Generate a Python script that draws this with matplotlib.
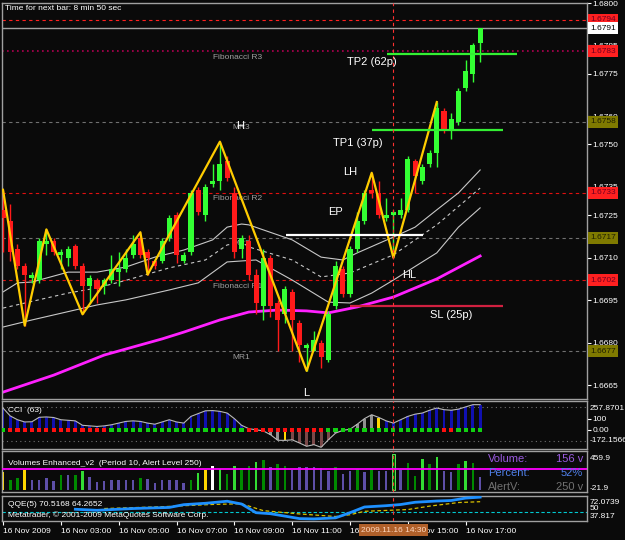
import matplotlib
matplotlib.use("Agg")
import matplotlib.pyplot as plt
import matplotlib.transforms as mtrans

plt.rcParams['font.family'] = ['Liberation Sans', 'DejaVu Sans']

W, H = 625, 540
BG = '#0a0a0a'

# ---- GBPUSD-ish M15 bars, 16 Nov 2009 01:00 .. 17:30 ----
opens = [1.6727, 1.6723, 1.6713, 1.6707, 1.6703, 1.6702, 1.6715, 1.6716, 1.6711, 1.6710,
         1.6714, 1.6707, 1.6700, 1.6702, 1.6700, 1.6702, 1.6705, 1.6706, 1.6711, 1.6717,
         1.6712, 1.6709, 1.6709, 1.6717, 1.6725, 1.6709, 1.6712, 1.6734, 1.6725, 1.6736,
         1.6737, 1.6744, 1.6733, 1.6713, 1.6716, 1.6704, 1.6693, 1.6710, 1.6694, 1.6690,
         1.6698, 1.6687, 1.6678, 1.6677, 1.6680, 1.6674, 1.6693, 1.6706, 1.6697, 1.6713,
         1.6723, 1.6734, 1.6733, 1.6724, 1.6725, 1.6725, 1.6727, 1.6744, 1.6737, 1.6743,
         1.6747, 1.6762, 1.6755, 1.6758, 1.6770, 1.6775, 1.6786]
highs = [1.6734, 1.6729, 1.6715, 1.6708, 1.6705, 1.6717, 1.6720, 1.6717, 1.6713, 1.6714,
         1.6715, 1.6708, 1.6704, 1.6703, 1.6703, 1.6711, 1.6712, 1.6713, 1.6718, 1.6719,
         1.6713, 1.6709, 1.6717, 1.6725, 1.6726, 1.6712, 1.6734, 1.6735, 1.6736, 1.6743,
         1.6751, 1.6746, 1.6735, 1.6718, 1.6718, 1.6706, 1.6713, 1.6711, 1.6695, 1.6700,
         1.6699, 1.6688, 1.6680, 1.6684, 1.6681, 1.6691, 1.6709, 1.6707, 1.6714, 1.6726,
         1.6734, 1.6740, 1.6737, 1.6731, 1.6727, 1.6731, 1.6746, 1.6745, 1.6743, 1.6748,
         1.6765, 1.6763, 1.6761, 1.6770, 1.6780, 1.6786, 1.6791]
lows = [1.6712, 1.6709, 1.6706, 1.6686, 1.6701, 1.6701, 1.6711, 1.6711, 1.6706, 1.6707,
        1.6706, 1.6690, 1.6694, 1.6694, 1.6697, 1.6701, 1.6700, 1.6705, 1.6710, 1.6710,
        1.6704, 1.6706, 1.6708, 1.6716, 1.6708, 1.6708, 1.6711, 1.6725, 1.6723, 1.6735,
        1.6734, 1.6737, 1.6710, 1.6710, 1.6702, 1.6690, 1.6688, 1.6689, 1.6677, 1.6687,
        1.6677, 1.6673, 1.6670, 1.6677, 1.6671, 1.6673, 1.6692, 1.6696, 1.6696, 1.6712,
        1.6722, 1.6731, 1.6724, 1.6723, 1.6710, 1.6724, 1.6726, 1.6733, 1.6736, 1.6742,
        1.6742, 1.6754, 1.6752, 1.6757, 1.6769, 1.6772, 1.6779]
closes = [1.6724, 1.6712, 1.6707, 1.6704, 1.6704, 1.6716, 1.6716, 1.6712, 1.6712, 1.6713,
          1.6707, 1.6700, 1.6703, 1.6699, 1.6702, 1.6706, 1.6706, 1.6710, 1.6715, 1.6711,
          1.6710, 1.6707, 1.6716, 1.6724, 1.6711, 1.6711, 1.6733, 1.6726, 1.6735, 1.6737,
          1.6743, 1.6738, 1.6712, 1.6717, 1.6704, 1.6694, 1.6710, 1.6693, 1.6688, 1.6699,
          1.6688, 1.6679, 1.6679, 1.6681, 1.6675, 1.6690, 1.6707, 1.6697, 1.6713, 1.6723,
          1.6733, 1.6733, 1.6725, 1.6725, 1.6726, 1.6727, 1.6745, 1.6739, 1.6742, 1.6747,
          1.6763, 1.6755, 1.6759, 1.6769, 1.6776, 1.6785, 1.6791]

zz_bars = [0, 3, 6, 11, 19, 20, 30, 42, 51, 54, 60]
zz_prices = [1.6734, 1.6686, 1.6720, 1.6690, 1.6719, 1.6704, 1.6751, 1.6670, 1.6740, 1.6710, 1.6765]

ma_bars = [0, 7, 14, 22, 25, 30, 34, 38, 42, 45, 49, 54, 60, 66]
ma_prices = [1.66625, 1.66685, 1.66756, 1.66813, 1.66837, 1.6688, 1.66908, 1.66915,
             1.66912, 1.66905, 1.66926, 1.66961, 1.67025, 1.67106]

up_bars = [0, 2, 4, 9, 13, 17, 21, 25, 29, 31, 33, 34, 40, 44, 47, 49, 54, 57, 60, 63, 66]
up_prices = [1.66979, 1.67011, 1.67014, 1.67049, 1.67049, 1.67067, 1.67102, 1.67127, 1.67163,
             1.67208, 1.67219, 1.67216, 1.67163, 1.67102, 1.67092, 1.67117, 1.67173, 1.67208,
             1.67269, 1.67329, 1.6741]
mid_bars = [0, 9, 13, 17, 23, 28, 31, 33, 34, 40, 44, 48, 54, 60, 66]
mid_prices = [1.66922, 1.66975, 1.66993, 1.6702, 1.67064, 1.67092, 1.67145, 1.67155, 1.67138,
              1.67092, 1.67032, 1.67046, 1.6711, 1.67216, 1.67346]
lo_bars = [0, 4, 13, 17, 23, 27, 31, 35, 40, 45, 48, 51, 54, 58, 60, 63, 66]
lo_prices = [1.66855, 1.6688, 1.66933, 1.66951, 1.66986, 1.67011, 1.67085, 1.67092, 1.67021,
             1.66943, 1.6694, 1.66975, 1.67021, 1.67085, 1.67117, 1.67208, 1.67276]

pivot_names = ['Fibonacci R3', 'MR3', 'Fibonacci R2', 'MR2', 'Fibonacci R1', 'MR1']
pivot_levels = [1.6783, 1.6758, 1.6733, 1.6717, 1.6702, 1.6677]
day_high = 1.6794
bid = 1.6791

trade_names = ['TP2 (62p)', 'TP1 (37p)', 'EP', 'SL (25p)']
trade_prices = [1.6782, 1.6755, 1.6718, 1.6693]
trade_from = [53.1, 51.0, 39.1, 48.0]
trade_to = [71.1, 69.2, 58.1, 69.2]

price_ticks = [1.6800, 1.6785, 1.6775, 1.6760, 1.6750, 1.6735, 1.6725, 1.6710, 1.6695, 1.6680, 1.6665]

cci = [195, 124, 90, 70, 72, 112, 115, 110, 90, 85, 80, 40, 35, 30, 35, 45, 60, 75, 80, 75,
       60, 50, 70, 90, 70, 60, 120, 145, 170, 172, 165, 150, 100, 40, 10, 0, -10, -44, -94, -95,
       -90, -118, -148, -133, -157, -90, -30, -5, 5, 50, 100, 135, 110, 80, 60, 90, 120, 140, 150, 175,
       195, 180, 175, 185, 205, 225, 225]
cci_kind = ['b'] * 37 + ['g', 'g', 'y'] + ['r'] * 6 + ['g'] * 6 + ['y'] + ['b'] * 14
cci_trend = ['g'] + ['r'] * 14 + ['g'] * 19 + ['r'] * 11 + ['g'] * 16 + ['r'] * 2 + ['g'] * 4

volume = [213, 122, 142, 232, 122, 114, 142, 110, 174, 174, 174, 220, 150, 91, 103, 122, 122, 122,
          122, 142, 130, 80, 114, 114, 114, 87, 122, 197, 240, 280, 252, 190, 280, 240, 280, 330,
          350, 268, 306, 280, 240, 270, 270, 270, 260, 228, 270, 190, 220, 252, 212, 252, 228, 228,
          420, 240, 318, 165, 369, 310, 389, 220, 212, 310, 338, 318, 156]
vol_kind = list('yddypppp' 'dpdlpppp' 'pppdpppp' 'ppdlywld' 'lddldpdd'
                'ppppppdp' 'pdpdppsp' 'ddldlppd' 'ldp')

qqe_bars = [10, 13, 18, 23, 25, 28, 31, 33, 35, 37, 39, 41, 43, 46, 48, 50, 53, 55, 57, 60, 62, 64, 66]
qqe_fast = [53.9, 52.5, 54.9, 56.4, 60.2, 62.1, 64.9, 61.1, 49.2, 47.8, 44.5, 41.1, 40.7, 42.1,
            49.2, 57.0, 58.8, 60.4, 63.5, 65.2, 65.9, 69.2, 70.52]
qqe_slow_bars = [14, 22, 29, 33, 36, 41, 46, 48, 50, 56, 59, 63, 66]
qqe_slow = [54.9, 57.4, 60.5, 61.5, 52.0, 47.5, 44.0, 46.4, 51.1, 53.5, 58.2, 63.1, 64.27]

time_bars = [0, 8, 16, 24, 32, 40, 48, 56, 64]
time_labels = ['16 Nov 2009', '16 Nov 03:00', '16 Nov 05:00', '16 Nov 07:00', '16 Nov 09:00',
               '16 Nov 11:00', '16 Nov 13:00', '16 Nov 15:00', '16 Nov 17:00']
cursor_bar = 54

# ---------------------------------------------------------------
fig = plt.figure(figsize=(W / 100, H / 100), dpi=100, facecolor=BG)


def rect(x0, y0, x1, y1):
    return [x0 / W, 1 - y1 / H, (x1 - x0) / W, (y1 - y0) / H]


def ftext(x, y, s, **kw):
    kw.setdefault('color', 'white')
    kw.setdefault('fontsize', 6)
    kw.setdefault('va', 'center')
    fig.text(x / W, 1 - y / H, s, **kw)


def style(a):
    a.set_xlim(-0.14, 80.78)
    a.set_xticks([])
    for s in a.spines.values():
        s.set_color('#a0a0a0')
        s.set_linewidth(1)
    a.tick_params(axis='y', left=False, right=True, labelleft=False, labelright=True,
                  colors='white', labelsize=6, length=3, pad=1)


def rlabel(a, y, s, fc, tc):
    tr = mtrans.blended_transform_factory(a.transAxes, a.transData)
    a.text(1.0 + 3 / 585, y, s, transform=tr, ha='left', va='center', fontsize=6, color=tc,
           clip_on=False, zorder=10,
           bbox=dict(boxstyle='square,pad=0.3', fc=fc, ec='none'))


n = len(opens)
idx = list(range(n))

# ---- main price panel ----
ax = fig.add_axes(rect(2, 3, 587, 399), facecolor=BG)
style(ax)
ax.set_ylim(1.666007, 1.6800)
ax.set_yticks(price_ticks)
ax.set_yticklabels(['%.4f' % p for p in price_ticks])

ax.axhline(day_high, color='#ff2020', ls=(0, (3, 3)), lw=0.8, zorder=1)
ax.axhline(bid, color='#a0a0a0', lw=1, zorder=1)
for name, lv in zip(pivot_names, pivot_levels):
    if name.startswith('Fib'):
        col = '#b00050' if name.endswith('R3') else '#e01010'
        ls = (0, (1, 2)) if name.endswith('R3') else (0, (3, 3))
        lw = 1.2 if name.endswith('R3') else 0.8
    else:
        col, ls, lw = '#707070', (0, (3, 3)), 0.8
    ax.axhline(lv, color=col, ls=ls, lw=lw, zorder=1)
    xl = 29.0 if name.startswith('Fib') else 31.7
    ax.text(xl, lv - 0.00021, name, color='#a0a0a0', fontsize=6, va='center', ha='left', zorder=2)

ax.plot(ma_bars, ma_prices, color='#ff20ff', lw=2, zorder=2)
ax.plot(up_bars, up_prices, color='#c8c8c8', lw=0.8, zorder=2)
ax.plot(mid_bars, mid_prices, color='#c8c8c8', lw=0.8, ls=(0, (3, 3)), zorder=2)
ax.plot(lo_bars, lo_prices, color='#c8c8c8', lw=0.8, zorder=2)

cols = ['#33ff33' if c >= o else '#ff1a1a' for o, c in zip(opens, closes)]
ax.vlines(idx, lows, highs, colors=cols, lw=1, zorder=3)
bottoms = [min(o, c) for o, c in zip(opens, closes)]
heights = [max(abs(c - o), 0.00003) for o, c in zip(opens, closes)]
ax.bar(idx, heights, bottom=bottoms, width=0.7, color=cols, zorder=3)

ax.plot(zz_bars, zz_prices, color='#ffcc00', lw=1.6, zorder=4)

trade_cols = ['#33ee33', '#33ee33', 'white', '#d02040']
for p, a, b, c in zip(trade_prices, trade_from, trade_to, trade_cols):
    ax.hlines(p, a, b, colors=c, lw=1.6, zorder=5)

lab_font = dict(color='white', fontsize=8, va='center', ha='left', zorder=6)
ax.text(47.6, 1.67792, trade_names[0], **lab_font)
ax.text(45.6, 1.67505, trade_names[1], **lab_font)
ax.text(47.0, 1.67403, 'LH', **lab_font)
ax.text(45.0, 1.67261, trade_names[2], **lab_font)
ax.text(55.2, 1.67039, 'HL', **lab_font)
ax.text(59.1, 1.66898, trade_names[3], **lab_font)
ax.text(32.8, 1.67565, 'H', color='white', fontsize=8, va='center', ha='center', zorder=6)
ax.text(41.9, 1.66622, 'L', color='white', fontsize=8, va='center', ha='center', zorder=6)

ax.axvline(cursor_bar, color='#ff3030', ls=(0, (3, 3)), lw=0.8, zorder=5)

rlabel(ax, day_high, '%.4f' % day_high, '#ff2020', '#700020')
rlabel(ax, bid, '%.4f' % bid, 'white', 'black')
for name, lv in zip(pivot_names, pivot_levels):
    if name.startswith('Fib'):
        rlabel(ax, lv, '%.4f' % lv, '#ff2020', '#700020')
    else:
        rlabel(ax, lv, '%.4f' % lv, '#7f7a00', '#202000')

ftext(5, 9, 'Time for next bar: 8 min 50 sec')

# ---- CCI panel ----
ac = fig.add_axes(rect(2, 401, 587, 449), facecolor=BG)
style(ac)
ac.set_ylim(-172.1566, 257.8701)
ac.set_yticks([100, 0])
ac.set_yticklabels(['100', '0.00'])
for lv in (200, -100):
    ac.axhline(lv, color='#707070', ls=(0, (1, 3)), lw=0.8, zorder=1)
cci_cmap = {'b': '#1010b0', 'g': '#909090', 'y': '#ffd700', 'r': '#7a4848'}
ac.bar(idx, cci, width=0.4, color=[cci_cmap[k] for k in cci_kind], zorder=2)
ac.plot(idx, cci, color='#b8b8b8', lw=0.8, zorder=3)
sq_cmap = {'g': '#10d010', 'r': '#ff1010'}
ac.scatter(idx, [0] * n, marker='s', s=9, c=[sq_cmap[k] for k in cci_trend], zorder=4, linewidths=0)
ac.axvline(cursor_bar, color='#ff3030', ls=(0, (3, 3)), lw=0.8, zorder=5)
ac.text(0.01, 0.8, 'CCI  (63)', transform=ac.transAxes, color='white', fontsize=6, va='center')
ftext(590, 409, '257.8701')
ftext(590, 441, '-172.1566')

# ---- volume panel ----
av = fig.add_axes(rect(2, 451, 587, 492), facecolor=BG)
style(av)
av.set_ylim(-21.9, 459.9)
av.set_yticks([])
vol_cmap = {'p': '#5e4fa8', 'd': '#008a00', 'l': '#33dd33', 'y': '#ffd700', 'w': 'white', 's': '#006000'}
av.bar(idx, volume, width=0.35, color=[vol_cmap[k] for k in vol_kind],
       edgecolor=['#66ff66' if k == 's' else 'none' for k in vol_kind], linewidth=0.6, zorder=2)
av.axhline(250, color='#ff00ff', lw=1.3, zorder=3)
av.axvline(cursor_bar, color='#ff3030', ls=(0, (3, 3)), lw=0.8, zorder=5)
av.text(0.01, 0.70, 'Volumes Enhanced_v2  (Period 10, Alert Level 250)', transform=av.transAxes,
        color='white', fontsize=6, va='center')
ftext(590, 458, '459.9')
ftext(590, 488, '-21.9')
ftext(488, 459, 'Volume:', color='#9a5ae0', fontsize=8)
ftext(583, 459, '156 v', color='#9a5ae0', fontsize=8, ha='right')
ftext(488, 473, 'Percent:', color='#4f7fe8', fontsize=8)
ftext(583, 473, '52%', color='#4f7fe8', fontsize=8, ha='right')
ftext(488, 487, 'AlertV:', color='#707070', fontsize=8)
ftext(583, 487, '250 v', color='#707070', fontsize=8, ha='right')

# ---- QQE panel ----
aq = fig.add_axes(rect(2, 496, 587, 521), facecolor=BG)
style(aq)
aq.set_ylim(37.817, 72.0739)
aq.set_yticks([])
aq.axhline(50, color='#00c8d0', ls=(0, (3, 2)), lw=0.8, zorder=1)
aq.plot(qqe_slow_bars, qqe_slow, color='#d8c000', ls=(0, (3, 2)), lw=0.9, zorder=2)
aq.plot(qqe_bars, qqe_fast, color='#1e90ff', lw=2, zorder=3)
aq.axvline(cursor_bar, color='#ff3030', ls=(0, (3, 3)), lw=0.8, zorder=5)
aq.text(0.01, 0.68, 'QQE(5) 70.5168 64.2652', transform=aq.transAxes, color='white', fontsize=6, va='center')
aq.text(0.01, 0.22, 'Metatrader, \u00a9 2001-2009 MetaQuotes Software Corp.', transform=aq.transAxes,
        color='white', fontsize=6, va='center')
ftext(590, 502, '72.0739')
ftext(590, 509, '50')
ftext(590, 516, '37.817')

# time axis
aq.set_xticks(time_bars)
aq.set_xticklabels(time_labels)
aq.tick_params(axis='x', colors='white', labelsize=6, length=3, pad=2, bottom=True)
for t in aq.get_xticklabels():
    t.set_ha('left')
tr = mtrans.blended_transform_factory(aq.transData, fig.transFigure)
aq.text(cursor_bar, 1 - 530 / H, '2009.11.16 14:30', transform=tr, ha='center', va='center',
        fontsize=6, color='#ffd8c0', zorder=10, clip_on=False,
        bbox=dict(boxstyle='square,pad=0.25', fc='#b0602a', ec='none'))

fig.savefig('out.png', dpi=100, facecolor=BG)
